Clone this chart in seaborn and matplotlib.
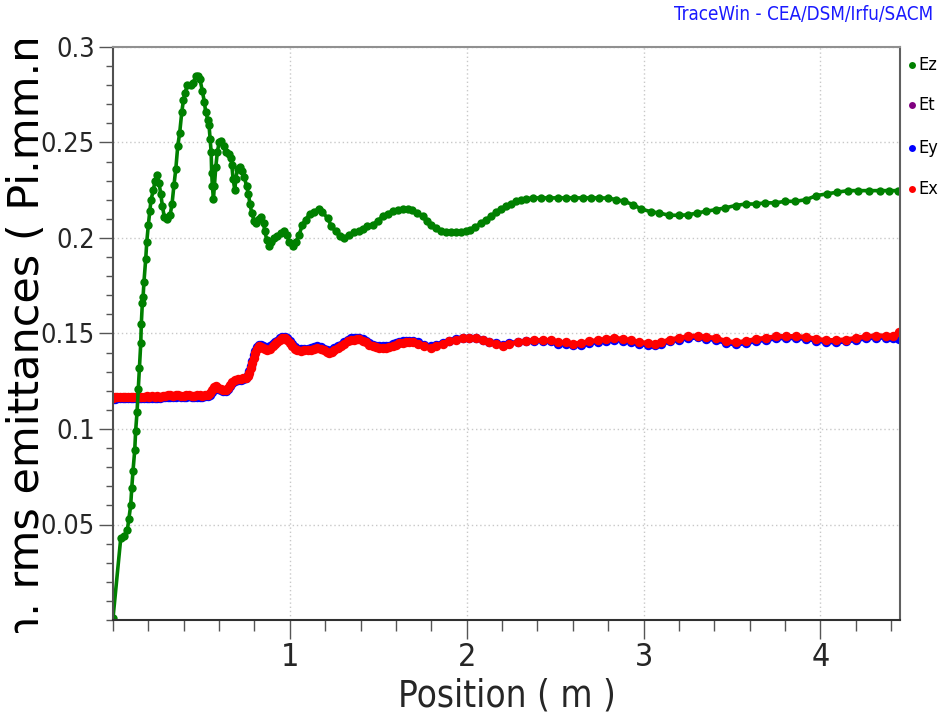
import numpy as np
import pandas as pd
import matplotlib
matplotlib.use("Agg")
import matplotlib.pyplot as plt
import seaborn as sns
from matplotlib.lines import Line2D
from matplotlib.transforms import Bbox, TransformedBbox
from matplotlib.ticker import MultipleLocator, FixedLocator

# ---------------- data ----------------
ez_pos = [0.000, 0.044, 0.062, 0.081, 0.090, 0.100, 0.106, 0.113, 0.123, 0.128,
          0.136, 0.143, 0.149, 0.157, 0.160, 0.166, 0.170, 0.175, 0.185, 0.191,
          0.200, 0.208, 0.215, 0.228, 0.238, 0.249, 0.260, 0.270, 0.279, 0.290,
          0.307, 0.323, 0.334, 0.345, 0.355, 0.366, 0.377, 0.389, 0.398, 0.407,
          0.421, 0.440, 0.454, 0.468, 0.481, 0.492, 0.505, 0.517, 0.524, 0.536,
          0.543, 0.549, 0.555, 0.558, 0.562, 0.568, 0.573, 0.581, 0.590, 0.600,
          0.613, 0.628, 0.641, 0.656, 0.668, 0.672, 0.679, 0.689, 0.694, 0.704,
          0.717, 0.732, 0.743, 0.755, 0.766, 0.774, 0.785, 0.798, 0.811, 0.826,
          0.839, 0.851, 0.858, 0.870, 0.883, 0.896, 0.911, 0.930, 0.949, 0.968,
          0.983, 0.996, 1.015, 1.034, 1.053, 1.071, 1.090, 1.113, 1.137, 1.162,
          1.184, 1.213, 1.235, 1.260, 1.285, 1.307, 1.336, 1.364, 1.392, 1.415,
          1.439, 1.468, 1.496, 1.524, 1.553, 1.581, 1.609, 1.637, 1.666, 1.690,
          1.719, 1.751, 1.773, 1.798, 1.826, 1.855, 1.883, 1.911, 1.939, 1.968,
          1.996, 2.020, 2.049, 2.081, 2.109, 2.137, 2.166, 2.194, 2.222, 2.251,
          2.279, 2.307, 2.336, 2.373, 2.420, 2.467, 2.515, 2.562, 2.609, 2.656,
          2.703, 2.750, 2.797, 2.845, 2.892, 2.939, 2.987, 3.043, 3.090, 3.143,
          3.198, 3.250, 3.303, 3.354, 3.411, 3.463, 3.520, 3.577, 3.633, 3.688,
          3.745, 3.801, 3.858, 3.920, 3.977, 4.037, 4.096, 4.156, 4.212, 4.275,
          4.335, 4.388, 4.439]
ez_val = [0.001, 0.043, 0.044, 0.047, 0.053, 0.060, 0.069, 0.078, 0.089, 0.099,
          0.109, 0.121, 0.132, 0.145, 0.155, 0.166, 0.169, 0.177, 0.189, 0.198,
          0.207, 0.214, 0.220, 0.225, 0.230, 0.233, 0.229, 0.223, 0.217, 0.211,
          0.210, 0.212, 0.218, 0.228, 0.236, 0.248, 0.255, 0.266, 0.272, 0.276,
          0.280, 0.280, 0.281, 0.285, 0.285, 0.283, 0.277, 0.271, 0.266, 0.262,
          0.259, 0.252, 0.245, 0.234, 0.227, 0.2205, 0.227, 0.237, 0.245, 0.250,
          0.251, 0.248, 0.245, 0.244, 0.242, 0.238, 0.231, 0.225, 0.231, 0.236,
          0.237, 0.235, 0.232, 0.227, 0.223, 0.218, 0.213, 0.209, 0.208, 0.210,
          0.211, 0.208, 0.2035, 0.199, 0.196, 0.198, 0.200, 0.201, 0.2027, 0.2035,
          0.2018, 0.198, 0.1957, 0.198, 0.2018, 0.207, 0.2096, 0.2128, 0.2138, 0.2152,
          0.2135, 0.2105, 0.2061, 0.2035, 0.2010, 0.2000, 0.2018, 0.2030, 0.2039, 0.2048,
          0.2061, 0.2070, 0.2088, 0.2114, 0.2128, 0.2140, 0.2149, 0.2152, 0.2152, 0.2145,
          0.2131, 0.2114, 0.2088, 0.2070, 0.2053, 0.2039, 0.2032, 0.2030, 0.2030, 0.2032,
          0.2039, 0.2044, 0.2058, 0.2079, 0.2096, 0.2114, 0.2135, 0.2154, 0.2166, 0.2178,
          0.2192, 0.2198, 0.2205, 0.2210, 0.2210, 0.2210, 0.2210, 0.2210, 0.2210, 0.2210,
          0.2210, 0.2210, 0.2209, 0.2201, 0.2192, 0.2175, 0.2152, 0.2137, 0.2131, 0.2119,
          0.2119, 0.2121, 0.2131, 0.2140, 0.2149, 0.2158, 0.2170, 0.2178, 0.2178, 0.2184,
          0.2184, 0.2192, 0.2192, 0.2201, 0.2222, 0.2231, 0.2240, 0.2248, 0.2248, 0.2248,
          0.2248, 0.2248, 0.2248]

exy_pos = [0.000, 0.010, 0.025, 0.040, 0.055, 0.070, 0.085, 0.100, 0.115, 0.130,
           0.145, 0.160, 0.175, 0.190, 0.205, 0.220, 0.235, 0.250, 0.265, 0.280,
           0.295, 0.310, 0.325, 0.340, 0.355, 0.370, 0.385, 0.400, 0.415, 0.430,
           0.445, 0.460, 0.475, 0.490, 0.505, 0.520, 0.535, 0.550, 0.562, 0.572,
           0.581, 0.595, 0.609, 0.624, 0.638, 0.650, 0.660, 0.675, 0.690, 0.705,
           0.723, 0.737, 0.751, 0.762, 0.770, 0.778, 0.785, 0.795, 0.804, 0.815,
           0.826, 0.838, 0.849, 0.861, 0.873, 0.888, 0.902, 0.916, 0.930, 0.944,
           0.958, 0.972, 0.986, 0.998, 1.011, 1.027, 1.043, 1.062, 1.081, 1.100,
           1.119, 1.138, 1.156, 1.175, 1.194, 1.208, 1.222, 1.236, 1.251, 1.270,
           1.289, 1.308, 1.326, 1.345, 1.364, 1.378, 1.392, 1.411, 1.430, 1.449,
           1.468, 1.487, 1.505, 1.524, 1.543, 1.562, 1.581, 1.600, 1.619, 1.638,
           1.656, 1.675, 1.694, 1.722, 1.760, 1.798, 1.826, 1.864, 1.901, 1.939,
           1.977, 2.015, 2.052, 2.090, 2.128, 2.166, 2.203, 2.241, 2.288, 2.336,
           2.383, 2.430, 2.477, 2.515, 2.562, 2.600, 2.647, 2.694, 2.741, 2.788,
           2.835, 2.882, 2.930, 2.977, 3.024, 3.062, 3.100, 3.147, 3.203, 3.250,
           3.307, 3.354, 3.411, 3.467, 3.524, 3.580, 3.637, 3.694, 3.750, 3.807,
           3.863, 3.920, 3.977, 4.033, 4.090, 4.146, 4.203, 4.260, 4.316, 4.373,
           4.410, 4.444]
ex_val = [0.1160, 0.1165, 0.1168, 0.1170, 0.1170, 0.1170, 0.1170, 0.1170, 0.1170, 0.1170,
          0.1170, 0.1170, 0.1170, 0.1171, 0.1170, 0.1171, 0.1170, 0.1171, 0.1170, 0.1172,
          0.1172, 0.1178, 0.1176, 0.1174, 0.1176, 0.1179, 0.1175, 0.1174, 0.1177, 0.1179,
          0.1175, 0.1174, 0.1176, 0.1177, 0.1175, 0.1178, 0.1179, 0.1190, 0.1205, 0.1220,
          0.1226, 0.1215, 0.1209, 0.1204, 0.1202, 0.1215, 0.1232, 0.1248, 0.1258, 0.1261,
          0.1262, 0.1265, 0.1267, 0.1278, 0.1293, 0.1320, 0.1345, 0.1372, 0.1398, 0.1420,
          0.1432, 0.1428, 0.1424, 0.1418, 0.1411, 0.1420, 0.1432, 0.1443, 0.1453, 0.1465,
          0.1476, 0.1474, 0.1468, 0.1450, 0.1432, 0.1420, 0.1411, 0.1410, 0.1411, 0.1412,
          0.1415, 0.1420, 0.1424, 0.1418, 0.1411, 0.1404, 0.1398, 0.1405, 0.1415, 0.1424,
          0.1432, 0.1446, 0.1459, 0.1465, 0.1468, 0.1470, 0.1471, 0.1462, 0.1453, 0.1442,
          0.1432, 0.1427, 0.1424, 0.1424, 0.1424, 0.1430, 0.1436, 0.1442, 0.1450, 0.1452,
          0.1453, 0.1453, 0.1453, 0.1447, 0.1432, 0.1424, 0.1436, 0.1447, 0.1459, 0.1468,
          0.1476, 0.1476, 0.1476, 0.1464, 0.1453, 0.1445, 0.1436, 0.1447, 0.1453, 0.1459,
          0.1464, 0.1464, 0.1464, 0.1453, 0.1453, 0.1447, 0.1450, 0.1459, 0.1464, 0.1471,
          0.1476, 0.1471, 0.1464, 0.1453, 0.1450, 0.1447, 0.1453, 0.1468, 0.1476, 0.1485,
          0.1488, 0.1481, 0.1476, 0.1459, 0.1453, 0.1459, 0.1471, 0.1476, 0.1485, 0.1485,
          0.1485, 0.1481, 0.1471, 0.1464, 0.1464, 0.1468, 0.1476, 0.1485, 0.1488, 0.1488,
          0.1488, 0.1506]
ey_val = [0.1155, 0.1158, 0.1160, 0.1162, 0.1162, 0.1163, 0.1162, 0.1163, 0.1162, 0.1163,
          0.1162, 0.1163, 0.1163, 0.1164, 0.1163, 0.1164, 0.1163, 0.1164, 0.1164, 0.1165,
          0.1165, 0.1170, 0.1168, 0.1167, 0.1168, 0.1171, 0.1168, 0.1167, 0.1169, 0.1171,
          0.1168, 0.1167, 0.1169, 0.1170, 0.1168, 0.1171, 0.1172, 0.1180, 0.1196, 0.1212,
          0.1220, 0.1210, 0.1203, 0.1198, 0.1197, 0.1208, 0.1225, 0.1242, 0.1253, 0.1257,
          0.1259, 0.1262, 0.1266, 0.1282, 0.1302, 0.1332, 0.1358, 0.1385, 0.1410, 0.1430,
          0.1442, 0.1440, 0.1435, 0.1430, 0.1424, 0.1432, 0.1443, 0.1453, 0.1462, 0.1474,
          0.1484, 0.1484, 0.1478, 0.1462, 0.1444, 0.1431, 0.1421, 0.1419, 0.1419, 0.1420,
          0.1423, 0.1428, 0.1432, 0.1427, 0.1420, 0.1413, 0.1408, 0.1414, 0.1424, 0.1433,
          0.1441, 0.1455, 0.1467, 0.1474, 0.1477, 0.1479, 0.1479, 0.1470, 0.1461, 0.1450,
          0.1441, 0.1435, 0.1432, 0.1432, 0.1432, 0.1437, 0.1443, 0.1450, 0.1458, 0.1461,
          0.1463, 0.1463, 0.1461, 0.1455, 0.1442, 0.1434, 0.1442, 0.1452, 0.1463, 0.1472,
          0.1479, 0.1479, 0.1478, 0.1468, 0.1457, 0.1449, 0.1441, 0.1450, 0.1454, 0.1459,
          0.1462, 0.1461, 0.1459, 0.1447, 0.1445, 0.1438, 0.1441, 0.1450, 0.1456, 0.1463,
          0.1468, 0.1463, 0.1455, 0.1444, 0.1441, 0.1439, 0.1445, 0.1459, 0.1467, 0.1476,
          0.1480, 0.1473, 0.1467, 0.1450, 0.1444, 0.1450, 0.1462, 0.1467, 0.1476, 0.1477,
          0.1477, 0.1473, 0.1463, 0.1456, 0.1455, 0.1459, 0.1467, 0.1476, 0.1479, 0.1479,
          0.1478, 0.1470]

x_ticks = [1, 2, 3, 4]
x_ticklabels = ["1", "2", "3", "4"]
y_ticks = [0.05, 0.1, 0.15, 0.2, 0.25, 0.3]
y_ticklabels = ["0.05", "0.1", "0.15", "0.2", "0.25", "0.3"]
legend_names = ["Ez", "Et", "Ey", "Ex"]
legend_colors = ["#008000", "#800080", "#0000ff", "#ff0000"]

# ---------------- figure ----------------
sns.set_theme(style="white")
plt.rcParams['font.family'] = ['DejaVu Sans']

W, H = 938, 718
fig = plt.figure(figsize=(W / 100, H / 100), dpi=100)
ax = fig.add_axes([113 / W, (H - 620) / H, (900 - 113) / W, (620 - 47) / H])

df_ez = pd.DataFrame({"pos": ez_pos, "val": ez_val})
df_ex = pd.DataFrame({"pos": exy_pos, "val": ex_val})
df_ey = pd.DataFrame({"pos": exy_pos, "val": ey_val})

sns.lineplot(data=df_ey, x="pos", y="val", ax=ax, color="#0000ff", marker="o",
             markersize=6.8, markeredgewidth=0, linewidth=3.4, estimator=None, sort=False)
sns.lineplot(data=df_ex, x="pos", y="val", ax=ax, color="#ff0000", marker="o",
             markersize=6.8, markeredgewidth=0, linewidth=3.4, estimator=None, sort=False)
sns.lineplot(data=df_ez, x="pos", y="val", ax=ax, color="#008000", marker="o",
             markersize=6.0, markeredgewidth=0, linewidth=2.6, estimator=None, sort=False)

ax.set_xlim(0, 4.45)
ax.set_ylim(0, 0.3)
ax.set_ylabel("")

ax.xaxis.set_major_locator(FixedLocator(x_ticks))
ax.set_xticklabels(x_ticklabels)
ax.xaxis.set_minor_locator(MultipleLocator(0.2))
ax.yaxis.set_major_locator(FixedLocator(y_ticks))
ax.set_yticklabels(y_ticklabels)
ax.yaxis.set_minor_locator(MultipleLocator(0.01))

for lab in ax.get_yticklabels():
    lab.set_fontsize(19.5)
    lab.set_fontstretch("condensed")
for lab in ax.get_xticklabels():
    lab.set_fontsize(23)
    lab.set_fontstretch("condensed")

ax.tick_params(axis="y", which="major", direction="out", length=10, width=1,
               color="#555555", pad=3, left=True)
ax.tick_params(axis="y", which="minor", direction="out", length=5, width=1,
               color="#555555", left=True)
ax.tick_params(axis="x", which="major", direction="out", length=14, width=1,
               color="#555555", pad=2, bottom=True)
ax.tick_params(axis="x", which="minor", direction="out", length=8, width=1,
               color="#555555", bottom=True)

ax.grid(True, which="major", color="#c8c8c8", linestyle=(0, (1, 2)), linewidth=1)
for side, col in [("left", "#505050"), ("bottom", "#303030"),
                  ("right", "#606060"), ("top", "#909090")]:
    ax.spines[side].set_visible(True)
    ax.spines[side].set_color(col)
    ax.spines[side].set_linewidth(1.5)

# x label
ax.set_xlabel("Position ( m )", fontsize=26.5, fontstretch="condensed", labelpad=3)

# y label (clipped, as in reference)
ylab = fig.text(39 / W, -15 / H, "Norm. rms emittances ( Pi.mm.mrad )", rotation=90,
                rotation_mode="anchor", ha="left", va="baseline", fontsize=31,
                color="black")
clip = TransformedBbox(Bbox([[0, 85 / H], [110 / W, 678 / H]]), fig.transFigure)
ylab.set_clip_box(clip)
ylab.set_clip_on(True)

# title
fig.text(933 / W, (H - 14) / H, "TraceWin - CEA/DSM/Irfu/SACM", ha="right", va="center",
         fontsize=13.5, color="#1a1aff", fontstretch="condensed")

# legend
leg_y = [65, 105, 148, 189]
for name, col, yy in zip(legend_names, legend_colors, leg_y):
    fig.add_artist(Line2D([912 / W], [(H - yy) / H], marker="o", color=col,
                          markersize=5, markeredgewidth=0, linestyle="none",
                          transform=fig.transFigure))
    fig.text(918 / W, (H - yy) / H, name, ha="left", va="center", fontsize=13,
             fontstretch="condensed", color="black")

fig.savefig("out.png", dpi=100)
